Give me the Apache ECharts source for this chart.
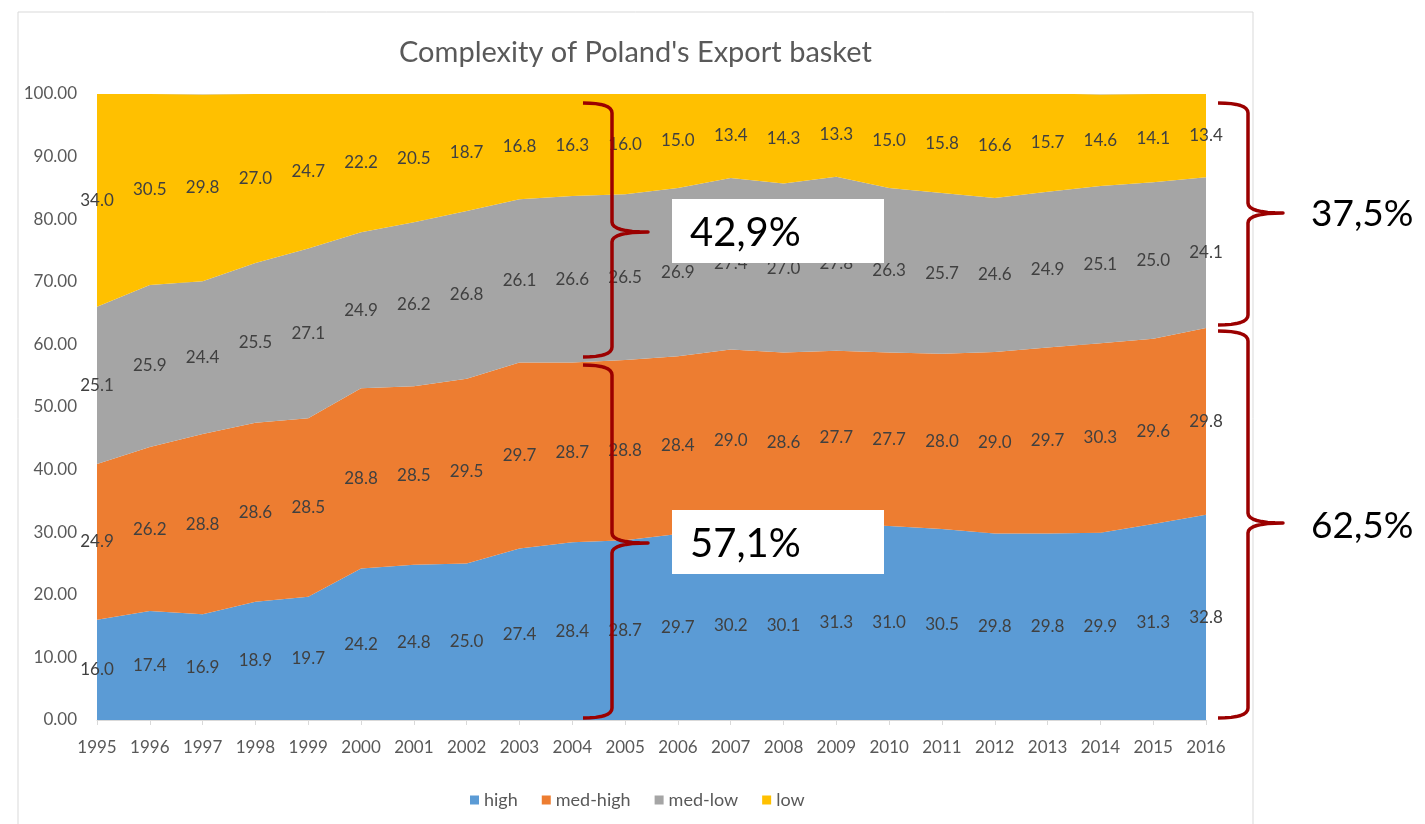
<!DOCTYPE html>
<html>
<head>
<meta charset="utf-8">
<script src="https://cdn.jsdelivr.net/npm/echarts@6/dist/echarts.min.js"></script>
<style>html,body{margin:0;padding:0;background:#fff;}#c{width:1425px;height:824px;}</style>
</head>
<body>
<div id="c"></div>
<script>
const years = ['1995','1996','1997','1998','1999','2000','2001','2002','2003','2004','2005','2006','2007','2008','2009','2010','2011','2012','2013','2014','2015','2016'];
const high    = [16.0,17.4,16.9,18.9,19.7,24.2,24.8,25.0,27.4,28.4,28.7,29.7,30.2,30.1,31.3,31.0,30.5,29.8,29.8,29.9,31.3,32.8];
const medHigh = [24.9,26.2,28.8,28.6,28.5,28.8,28.5,29.5,29.7,28.7,28.8,28.4,29.0,28.6,27.7,27.7,28.0,29.0,29.7,30.3,29.6,29.8];
const medLow  = [25.1,25.9,24.4,25.5,27.1,24.9,26.2,26.8,26.1,26.6,26.5,26.9,27.4,27.0,27.8,26.3,25.7,24.6,24.9,25.1,25.0,24.1];
const low     = [34.0,30.5,29.8,27.0,24.7,22.2,20.5,18.7,16.8,16.3,16.0,15.0,13.4,14.3,13.3,15.0,15.8,16.6,15.7,14.6,14.1,13.4];
const seriesNames = ['high','med-high','med-low','low'];
const colors = ['#5B9BD5','#ED7D31','#A5A5A5','#FFC000'];
const annotations = ['42,9%','57,1%','37,5%','62,5%'];

const FONT = 'Lato, "Open Sans", sans-serif';
const all = [high, medHigh, medLow, low];

const areaSeries = all.map((arr, i) => ({
  name: seriesNames[i], type: 'line', stack: 'total', data: arr,
  showSymbol: false, symbol: 'none', lineStyle: {width: 0},
  areaStyle: {color: colors[i], opacity: 1}, itemStyle: {color: colors[i]},
  emphasis: {disabled: true}, z: 2
}));

// label carriers: centre of each band
const labelSeries = all.map((arr, i) => {
  const mid = arr.map((v, k) => {
    let base = 0;
    for (let j = 0; j < i; j++) base += all[j][k];
    return base + v / 2;
  });
  return {
    name: seriesNames[i] + '-lbl', type: 'line', data: mid, symbol: 'circle', symbolSize: 2,
    showSymbol: true, itemStyle: {color: 'rgba(0,0,0,0)'},
    lineStyle: {width: 0, color: 'rgba(0,0,0,0)'}, silent: true, z: 5,
    emphasis: {disabled: true},
    label: {show: true, position: 'inside', color: '#404040', fontSize: 17, fontFamily: FONT,
      formatter: p => arr[p.dataIndex].toFixed(1)}
  };
});

const chart = echarts.init(document.getElementById('c'));

function quad(p0, c, p1, n) {
  const pts = [];
  for (let t = 0; t <= n; t++) {
    const s = t / n;
    pts.push([(1-s)*(1-s)*p0[0] + 2*(1-s)*s*c[0] + s*s*p1[0], (1-s)*(1-s)*p0[1] + 2*(1-s)*s*c[1] + s*s*p1[1]]);
  }
  return pts;
}
function brace(x0, x1, x2, yT, yM, yB) {
  const r = 10;
  let pts = [];
  pts = pts.concat(quad([x0, yT], [x1, yT], [x1, yT + r], 8));
  pts = pts.concat(quad([x1, yM - r], [x1, yM], [x2, yM], 8));
  pts = pts.concat(quad([x2, yM], [x1, yM], [x1, yM + r], 8));
  pts = pts.concat(quad([x1, yB - r], [x1, yB], [x0, yB], 8));
  return {type: 'polyline', shape: {points: pts}, style: {fill: null, stroke: '#9B0000', lineWidth: 3.5, lineJoin: 'round'}, z: 100, silent: true};
}
const boxText = {fill: '#000', fontSize: 40, fontFamily: FONT};
const sideText = {fill: '#000', fontSize: 37, fontFamily: FONT};

chart.setOption({
  animation: false,
  title: {text: "Complexity of Poland's Export basket", left: 394, top: 33,
    textStyle: {fontSize: 29, fontWeight: 'normal', color: '#595959', fontFamily: FONT}},
  legend: {data: seriesNames, left: 465, top: 786, itemWidth: 9, itemHeight: 9, itemGap: 24,
    icon: 'rect', textStyle: {fontSize: 18, color: '#595959', fontFamily: FONT}},
  grid: {left: 97, right: 219, top: 94, bottom: 104, containLabel: false},
  xAxis: {type: 'category', data: years, boundaryGap: false,
    axisLine: {lineStyle: {color: '#D9D9D9'}},
    axisTick: {show: true, alignWithLabel: true, length: 5, lineStyle: {color: '#D9D9D9'}},
    axisLabel: {color: '#595959', fontSize: 17, fontFamily: FONT, margin: 19, interval: 0}},
  yAxis: {type: 'value', min: 0, max: 100, interval: 10,
    axisLine: {show: false}, axisTick: {show: false},
    splitLine: {show: true, lineStyle: {color: '#D9D9D9'}},
    axisLabel: {color: '#595959', fontSize: 17, fontFamily: FONT, margin: 20,
      formatter: v => v.toFixed(2)}},
  series: areaSeries.concat(labelSeries),
  graphic: [
    {type: 'rect', shape: {x: 18, y: 12, width: 1235, height: 830}, style: {fill: null, stroke: '#D9D9D9', lineWidth: 1}, silent: true, z: 0},
    brace(583, 612, 648, 103, 232, 357),
    brace(583, 612, 648, 365, 543, 718),
    brace(1218, 1248, 1283, 103, 213, 325),
    brace(1218, 1248, 1283, 331, 523, 718),
    {type: 'rect', shape: {x: 672, y: 199, width: 212, height: 64}, style: {fill: '#fff'}, z: 100},
    {type: 'text', x: 690, y: 233, style: Object.assign({text: annotations[0], textVerticalAlign: 'middle'}, boxText), z: 101},
    {type: 'rect', shape: {x: 672, y: 510, width: 212, height: 64}, style: {fill: '#fff'}, z: 100},
    {type: 'text', x: 690, y: 544, style: Object.assign({text: annotations[1], textVerticalAlign: 'middle'}, boxText), z: 101},
    {type: 'text', x: 1311, y: 214, style: Object.assign({text: annotations[2], textVerticalAlign: 'middle'}, sideText), z: 101},
    {type: 'text', x: 1311, y: 526, style: Object.assign({text: annotations[3], textVerticalAlign: 'middle'}, sideText), z: 101}
  ]
});
</script>
</body>
</html>
